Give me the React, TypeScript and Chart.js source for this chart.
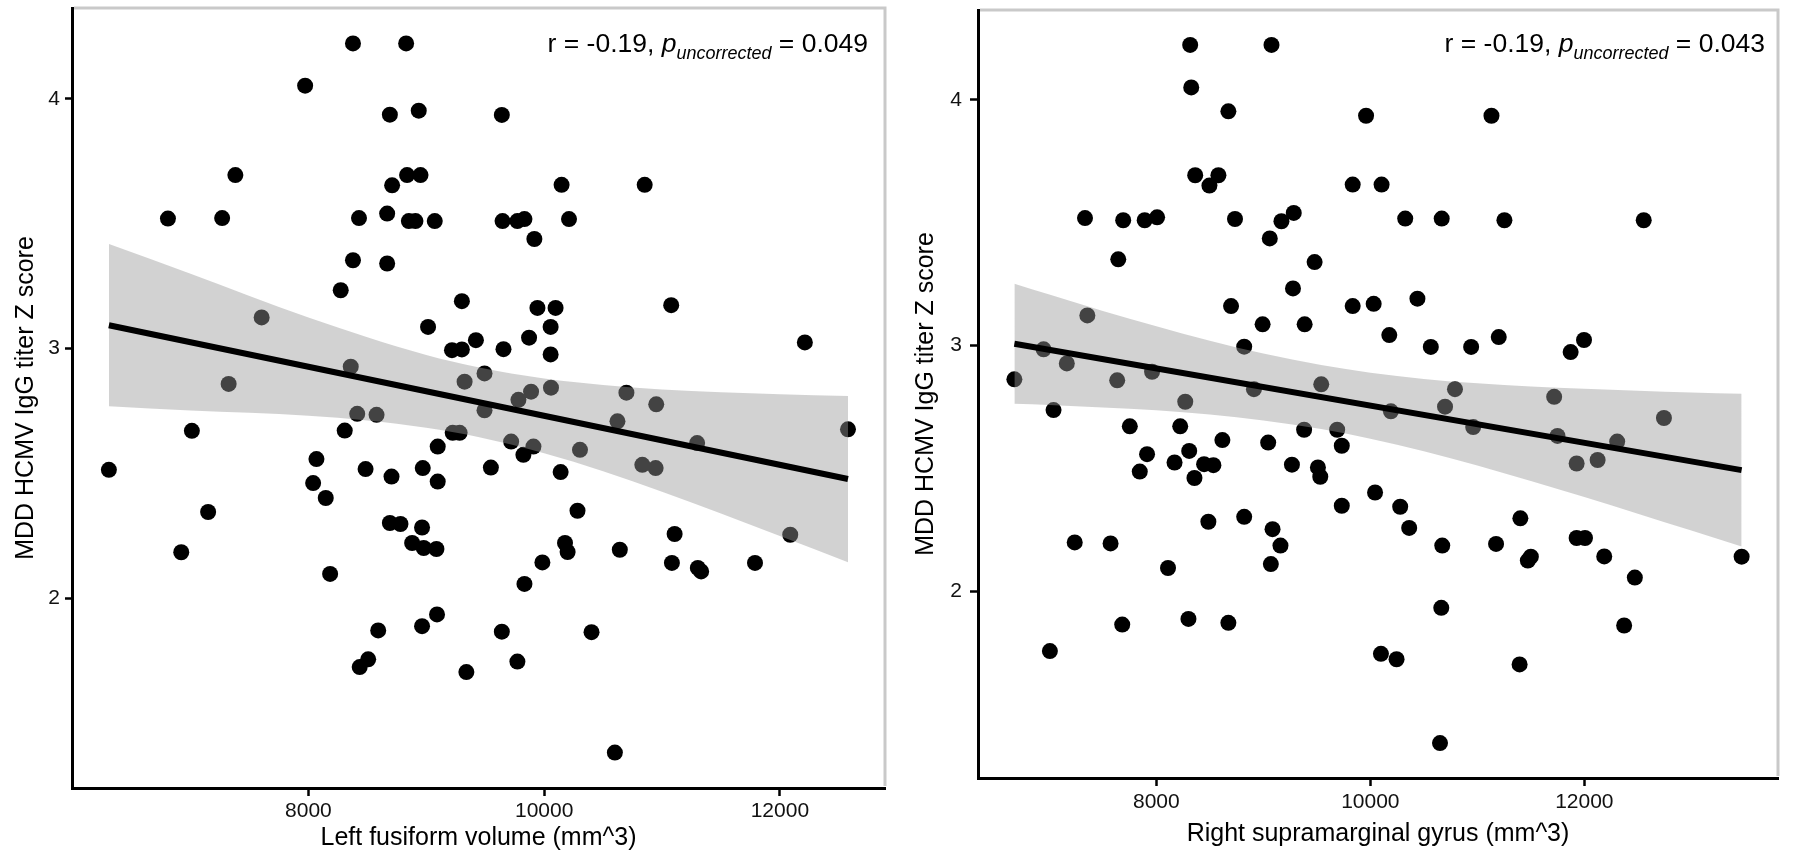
import React, { useEffect, useRef } from 'react';
import { Chart, registerables } from 'chart.js';

Chart.register(...registerables);

const FONT_FAMILY = '"Liberation Sans", Arial, Helvetica, sans-serif';

const xTickValues = [8000, 10000, 12000];
const yTickValues = [2, 3, 4];
const yTitle = 'MDD HCMV IgG titer Z score';

// ---------- Left panel: left fusiform volume ----------
const leftXLabel = 'Left fusiform volume (mm^3)';
const leftStatR = '-0.19';
const leftStatP = '0.049';
const leftVolume = [
  8378, 8829, 7972, 8691, 8936, 7380, 8837, 8951, 8710, 6808,
  7268, 8429, 8668, 8852, 8908, 9072, 8378, 8668, 8274, 9015,
  9218, 9302, 7603, 8359, 7323, 8414, 8578, 7011, 8308, 9641,
  10148, 10853, 9647, 9773, 9833, 10211, 9917, 9302, 9943, 10097,
  11078, 10055, 9421, 9872, 9655, 10055, 12212, 9494, 9325, 9889,
  9782, 10058, 10698, 10951, 9494, 10622, 9224, 9283, 12578, 9097,
  9097, 9548, 9720, 9824, 9909, 10304, 10140, 10833, 10946, 11298,
  10283, 11107, 12088, 10177, 10199, 10642, 9985, 11084, 11304, 11332,
  11789, 9833, 9091, 8964, 9641, 10402, 9773, 9340, 10600, 6307,
  8068, 8485, 8705, 8970, 8040, 8147, 7149, 6921, 8691, 8781,
  8964, 8880, 8978, 9086, 8184, 8592, 8435, 8507,
];
const leftZ = [
  4.222, 4.222, 4.053, 3.937, 3.953, 3.695, 3.695, 3.695, 3.654, 3.521,
  3.523, 3.523, 3.541, 3.511, 3.511, 3.511, 3.354, 3.341, 3.234, 3.087,
  2.994, 2.997, 3.125, 2.928, 2.859, 2.739, 2.735, 2.671, 2.672, 3.936,
  3.656, 3.656, 3.511, 3.511, 3.519, 3.519, 3.439, 3.19, 3.163, 3.163,
  3.174, 3.087, 3.034, 3.044, 2.998, 2.977, 3.025, 2.901, 2.868, 2.828,
  2.795, 2.844, 2.824, 2.777, 2.753, 2.709, 2.663, 2.663, 2.677, 2.608,
  2.468, 2.524, 2.628, 2.575, 2.608, 2.595, 2.506, 2.535, 2.522, 2.622,
  2.351, 2.258, 2.255, 2.222, 2.186, 2.195, 2.144, 2.142, 2.122, 2.108,
  2.142, 2.058, 1.936, 1.889, 1.867, 1.865, 1.747, 1.705, 1.383, 2.515,
  2.558, 2.518, 2.488, 2.522, 2.462, 2.402, 2.346, 2.185, 2.302, 2.298,
  2.284, 2.222, 2.202, 2.198, 2.098, 1.872, 1.725, 1.756,
];
const leftFitX = [6307, 12578];
const leftFitY = [3.094, 2.478];
const leftBandX = [6307, 7000, 7500, 8000, 8500, 9000, 9440, 10000, 10500, 11000, 11500, 12000, 12578];
const leftBandUpper = [3.419, 3.3, 3.211, 3.125, 3.046, 2.975, 2.926, 2.881, 2.855, 2.837, 2.826, 2.818, 2.811];
const leftBandLower = [2.769, 2.752, 2.743, 2.731, 2.712, 2.683, 2.646, 2.581, 2.509, 2.427, 2.34, 2.25, 2.145];
const leftXRange = [5994, 12892];
const leftYRange = [1.241, 4.364];

// ---------- Right panel: right supramarginal gyrus ----------
const rightXLabel = 'Right supramarginal gyrus (mm^3)';
const rightStatR = '-0.19';
const rightStatP = '0.043';
const rightVolume = [
  8316, 9076, 8326, 8673, 8363, 8496, 8580, 7333, 7690, 7891,
  8007, 8735, 9169, 9284, 9060, 7644, 9479, 9277, 8698, 8993,
  9386, 9835, 9835, 7355, 8821, 6946, 7163, 6673, 7634, 7960,
  8270, 8912, 9541, 7039, 7752, 8223, 9381, 9690, 8617, 9045,
  9733, 7913, 8307, 8170, 8446, 8533, 9267, 9510, 9532, 7845,
  8356, 9733, 8486, 8821, 9086, 9160, 9070, 7237, 7572, 8109,
  8300, 8673, 7681, 7005, 9960, 11132, 10105, 10326, 10667, 11253,
  12555, 10031, 10440, 10177, 10565, 10942, 11200, 11872, 11997, 10791,
  10698, 11718, 12744, 10192, 10961, 11749, 11928, 12124, 12307, 10044,
  10279, 10363, 10672, 11175, 11402, 11472, 11500, 11928, 12006, 12186,
  12472, 13470, 10663, 12372, 10099, 10245, 11395, 10651,
];
const rightZ = [
  4.223, 4.223, 4.05, 3.953, 3.693, 3.651, 3.693, 3.519, 3.51, 3.51,
  3.522, 3.515, 3.506, 3.54, 3.436, 3.351, 3.34, 3.233, 3.161, 3.087,
  3.087, 3.655, 3.161, 3.123, 2.996, 2.985, 2.928, 2.863, 2.859, 2.894,
  2.772, 2.823, 2.843, 2.738, 2.672, 2.672, 2.658, 2.658, 2.616, 2.606,
  2.593, 2.559, 2.572, 2.525, 2.518, 2.514, 2.516, 2.505, 2.467, 2.488,
  2.462, 2.349, 2.284, 2.304, 2.254, 2.187, 2.112, 2.2, 2.196, 2.096,
  1.889, 1.873, 1.866, 1.758, 3.935, 3.935, 3.655, 3.517, 3.517, 3.51,
  3.51, 3.17, 3.191, 3.043, 2.995, 2.995, 3.035, 2.974, 3.023, 2.823,
  2.752, 2.792, 2.706, 2.733, 2.669, 2.633, 2.521, 2.535, 2.61, 2.403,
  2.345, 2.259, 2.187, 2.194, 2.298, 2.126, 2.142, 2.218, 2.218, 2.143,
  2.057, 2.142, 1.934, 1.862, 1.747, 1.725, 1.704, 1.384,
];
const rightFitX = [6673, 13470];
const rightFitY = [3.008, 2.494];
const rightBandX = [6673, 7000, 7500, 8000, 8500, 9000, 9540, 10000, 10500, 11000, 11500, 12000, 12500, 13000, 13470];
const rightBandUpper = [3.252, 3.208, 3.141, 3.079, 3.02, 2.968, 2.921, 2.89, 2.865, 2.847, 2.834, 2.825, 2.817, 2.81, 2.805];
const rightBandLower = [2.764, 2.759, 2.749, 2.737, 2.72, 2.696, 2.661, 2.622, 2.571, 2.513, 2.45, 2.385, 2.317, 2.248, 2.183];
const rightXRange = [6333, 13810];
const rightYRange = [1.242, 4.365];

const toXY = (xs: number[], ys: number[]) => xs.map((x, i) => ({ x, y: ys[i] }));

const statPlugin = {
  id: 'statText',
  beforeDatasetsDraw(chart: any) {
    const { ctx, chartArea } = chart;
    ctx.save();
    ctx.strokeStyle = '#c9c9c9';
    ctx.lineWidth = 3;
    ctx.beginPath();
    ctx.moveTo(chartArea.left + 2, chartArea.top);
    ctx.lineTo(chartArea.right, chartArea.top);
    ctx.lineTo(chartArea.right, chartArea.bottom - 2);
    ctx.stroke();
    ctx.restore();
  },
  afterDraw(chart: any, _args: any, opts: any) {
    if (!opts || !opts.r) return;
    const ctx = chart.ctx;
    const base = `${opts.size}px ${FONT_FAMILY}`;
    const ital = `italic ${opts.size}px ${FONT_FAMILY}`;
    const sub = `italic ${opts.subSize}px ${FONT_FAMILY}`;
    const parts = [
      { text: `r = ${opts.r}, `, font: base, dy: 0 },
      { text: 'p', font: ital, dy: 0 },
      { text: 'uncorrected', font: sub, dy: opts.subShift },
      { text: ` = ${opts.p}`, font: base, dy: 0 },
    ];
    ctx.save();
    let total = 0;
    const widths = parts.map((p) => {
      ctx.font = p.font;
      const w = ctx.measureText(p.text).width;
      total += w;
      return w;
    });
    let x = opts.xEnd - total;
    ctx.fillStyle = '#000';
    ctx.textAlign = 'left';
    ctx.textBaseline = 'alphabetic';
    parts.forEach((p, i) => {
      ctx.font = p.font;
      ctx.fillText(p.text, x, opts.baseline + p.dy);
      x += widths[i];
    });
    ctx.restore();
  },
};

type Panel = {
  xs: number[];
  ys: number[];
  fitX: number[];
  fitY: number[];
  bandX: number[];
  bandUpper: number[];
  bandLower: number[];
  xRange: number[];
  yRange: number[];
  xLabel: string;
  r: string;
  p: string;
  layout: {
    top: number;
    right: number;
    yAxisWidth: number;
    xAxisHeight: number;
    xTickLen: number;
    xTickPad: number;
    yTickLen: number;
    yTickPad: number;
    xTitlePad: number;
    yTitlePad: number;
    statXEnd: number;
    statBaseline: number;
  };
};

function buildChart(canvas: HTMLCanvasElement, cfg: Panel) {
  const L = cfg.layout;
  return new Chart(canvas, {
    type: 'scatter',
    data: {
      datasets: [
        {
          type: 'line',
          data: toXY(cfg.fitX, cfg.fitY),
          borderColor: '#000',
          borderWidth: 6,
          pointRadius: 0,
          showLine: true,
          fill: false,
          order: 1,
        } as any,
        {
          type: 'line',
          data: toXY(cfg.bandX, cfg.bandUpper),
          borderColor: 'rgba(0,0,0,0)',
          borderWidth: 0,
          pointRadius: 0,
          showLine: true,
          cubicInterpolationMode: 'monotone',
          fill: '+1',
          backgroundColor: 'rgba(153,153,153,0.44)',
          order: 2,
        } as any,
        {
          type: 'line',
          data: toXY(cfg.bandX, cfg.bandLower),
          borderColor: 'rgba(0,0,0,0)',
          borderWidth: 0,
          pointRadius: 0,
          showLine: true,
          cubicInterpolationMode: 'monotone',
          fill: false,
          order: 2,
        } as any,
        {
          type: 'scatter',
          data: toXY(cfg.xs, cfg.ys),
          pointRadius: 8,
          pointBackgroundColor: '#000',
          pointBorderColor: '#000',
          pointBorderWidth: 0,
          order: 3,
        } as any,
      ],
    },
    options: {
      responsive: false,
      animation: false,
      devicePixelRatio: 1,
      events: [],
      layout: { padding: { left: 0, top: L.top, right: L.right, bottom: 0 } },
      plugins: {
        legend: { display: false },
        tooltip: { enabled: false },
        statText: {
          r: cfg.r,
          p: cfg.p,
          size: 26.5,
          subSize: 18,
          subShift: 7,
          xEnd: L.statXEnd,
          baseline: L.statBaseline,
        },
      } as any,
      scales: {
        x: {
          type: 'linear',
          position: 'bottom',
          min: cfg.xRange[0],
          max: cfg.xRange[1],
          afterBuildTicks: (s: any) => {
            s.ticks = xTickValues.map((v) => ({ value: v }));
          },
          afterFit: (s: any) => {
            s.height = L.xAxisHeight;
            s.paddingLeft = 0;
            s.paddingRight = 0;
          },
          grid: {
            display: true,
            drawOnChartArea: false,
            drawTicks: true,
            tickLength: L.xTickLen,
            tickColor: '#000',
            tickWidth: 2.5,
          },
          border: { display: true, color: '#000', width: 3 },
          ticks: {
            color: '#111',
            font: { family: FONT_FAMILY, size: 21 },
            padding: L.xTickPad,
            autoSkip: false,
            maxRotation: 0,
            callback: (v: any) => String(v),
          },
          title: {
            display: true,
            text: cfg.xLabel,
            color: '#000',
            font: { family: FONT_FAMILY, size: 25 },
            padding: { top: 0, bottom: L.xTitlePad },
          },
        },
        y: {
          type: 'linear',
          position: 'left',
          min: cfg.yRange[0],
          max: cfg.yRange[1],
          afterBuildTicks: (s: any) => {
            s.ticks = yTickValues.map((v) => ({ value: v }));
          },
          afterFit: (s: any) => {
            s.width = L.yAxisWidth;
            s.paddingTop = 0;
            s.paddingBottom = 0;
          },
          grid: {
            display: true,
            drawOnChartArea: false,
            drawTicks: true,
            tickLength: L.yTickLen,
            tickColor: '#000',
            tickWidth: 2.5,
          },
          border: { display: true, color: '#000', width: 3 },
          ticks: {
            color: '#111',
            font: { family: FONT_FAMILY, size: 21 },
            padding: L.yTickPad,
            autoSkip: false,
            callback: (v: any) => String(v),
          },
          title: {
            display: true,
            text: yTitle,
            color: '#000',
            font: { family: FONT_FAMILY, size: 25 },
            padding: { top: L.yTitlePad, bottom: 0 },
          },
        },
      },
    },
    plugins: [statPlugin],
  } as any);
}

const leftPanel: Panel = {
  xs: leftVolume,
  ys: leftZ,
  fitX: leftFitX,
  fitY: leftFitY,
  bandX: leftBandX,
  bandUpper: leftBandUpper,
  bandLower: leftBandLower,
  xRange: leftXRange,
  yRange: leftYRange,
  xLabel: leftXLabel,
  r: leftStatR,
  p: leftStatP,
  layout: {
    top: 8,
    right: 15,
    yAxisWidth: 72,
    xAxisHeight: 70,
    xTickLen: 8,
    xTickPad: 3,
    yTickLen: 7,
    yTickPad: 5,
    xTitlePad: 4.4,
    yTitlePad: 11.3,
    statXEnd: 868,
    statBaseline: 52,
  },
};

const rightPanel: Panel = {
  xs: rightVolume,
  ys: rightZ,
  fitX: rightFitX,
  fitY: rightFitY,
  bandX: rightBandX,
  bandUpper: rightBandUpper,
  bandLower: rightBandLower,
  xRange: rightXRange,
  yRange: rightYRange,
  xLabel: rightXLabel,
  r: rightStatR,
  p: rightStatP,
  layout: {
    top: 10,
    right: 22,
    yAxisWidth: 78,
    xAxisHeight: 80,
    xTickLen: 8,
    xTickPad: 4,
    yTickLen: 8,
    yTickPad: 8,
    xTitlePad: 8.4,
    yTitlePad: 11.3,
    statXEnd: 865,
    statBaseline: 52,
  },
};

function PanelChart({ cfg, left }: { cfg: Panel; left: number }) {
  const ref = useRef<HTMLCanvasElement | null>(null);
  useEffect(() => {
    if (!ref.current) return;
    const chart = buildChart(ref.current, cfg);
    return () => chart.destroy();
  }, [cfg]);
  return (
    <div style={{ position: 'absolute', left, top: 0, width: 900, height: 858 }}>
      <canvas ref={ref} width={900} height={858} style={{ display: 'block', width: 900, height: 858 }} />
    </div>
  );
}

export default function App() {
  return (
    <div
      style={{
        position: 'fixed',
        left: 0,
        top: 0,
        width: 1800,
        height: 858,
        background: '#ffffff',
        overflow: 'hidden',
      }}
    >
      <PanelChart cfg={leftPanel} left={0} />
      <PanelChart cfg={rightPanel} left={900} />
    </div>
  );
}
